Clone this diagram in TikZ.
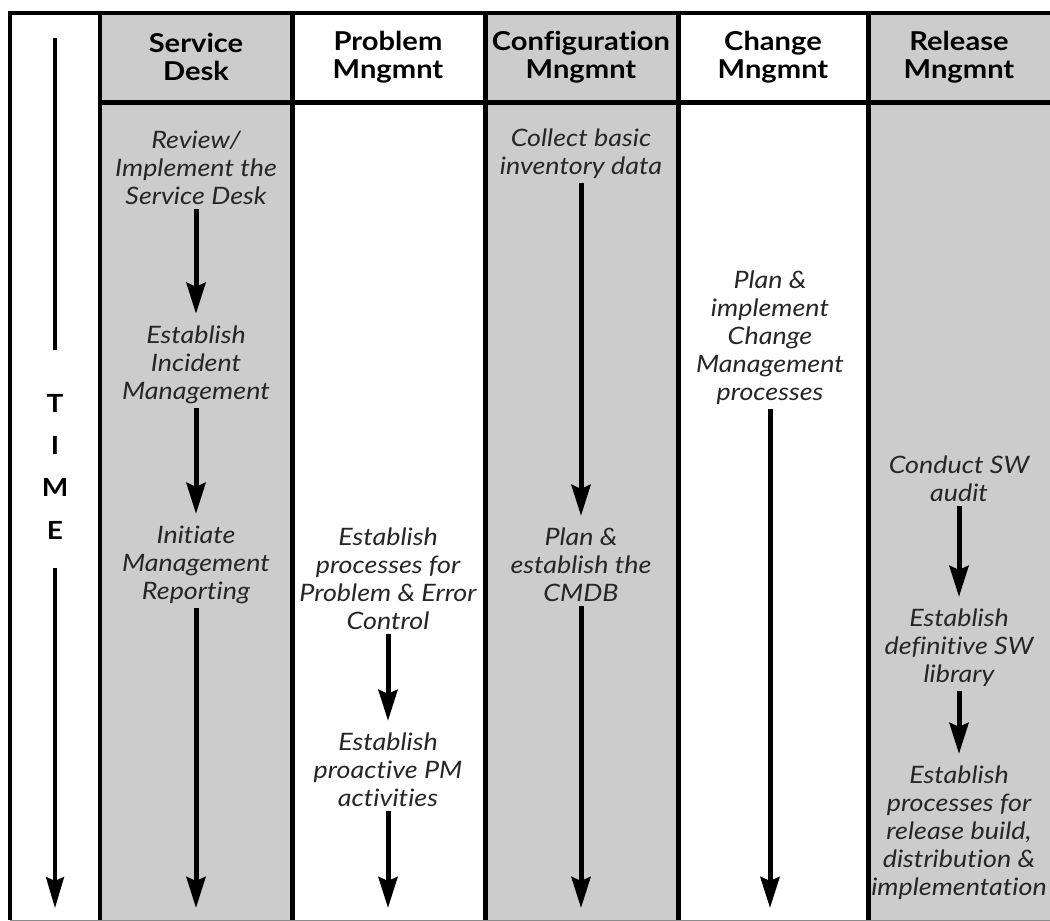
\documentclass[tikz,border=0pt]{standalone}
\usepackage{fontspec}
\setmainfont{Lato}[Ligatures=NoCommon, FakeStretch=1.12]
\usetikzlibrary{arrows.meta}
\definecolor{lanegray}{HTML}{CCCCCC}
\definecolor{inkgray}{HTML}{262626}
\begin{document}
\begin{tikzpicture}[x=1pt,y=-1pt,
  task/.style={font=\fontsize{24}{28}\selectfont\itshape, align=center, inner sep=0pt, text=inkgray},
  head/.style={font=\fontsize{26}{28}\selectfont\bfseries, align=center, inner sep=0pt},
  letter/.style={font=\fontsize{25}{28}\selectfont\bfseries, inner sep=0pt},
  flow/.style={line width=5pt, -{Stealth[length=31pt,width=19pt,inset=4pt]}, shorten <=4pt},
  flowmid/.style={flow, shorten >=12pt},
  timeline/.style={line width=3.5pt},
  rule/.style={line width=5pt},
]
\useasboundingbox (0,0) rectangle (1050,921);

% shaded swimlanes
\fill[lanegray] (100,13) rectangle (292,920);
\fill[lanegray] (485,13) rectangle (678,920);
\fill[lanegray] (868,13) rectangle (1050,920);

% frame and lane rules
\draw[line width=4pt] (10,920) -- (10,13) -- (1050,13);
\draw[line width=1pt, black!45] (10,920) -- (1050,920);
\draw[line width=4pt] (100,13) -- (100,920);
\draw[rule] (292,13) -- (292,920);
\draw[rule] (485,13) -- (485,920);
\draw[rule] (678,13) -- (678,920);
\draw[rule] (868,13) -- (868,920);
\draw[rule] (100,102) -- (1050,102);

% column headings
\node[head] (hSD) at (196,57) {Service\\Desk};
\node[head] (hPM) at (388,57) {Problem\\Mngmnt};
\node[head] (hCM) at (581,57) {Configuration\\Mngmnt};
\node[head] (hCH) at (773,57) {Change\\Mngmnt};
\node[head] (hRM) at (959,57) {Release\\Mngmnt};

% time axis
\node[letter] (tT) at (55,403) {T};
\node[letter] (tI) at (55,445) {I};
\node[letter] (tM) at (55,487) {M};
\node[letter] (tE) at (55,530) {E};
\coordinate (timeTop) at (55,38);
\coordinate (timeMidA) at (55,350);
\coordinate (timeMidB) at (55,568);
\coordinate (timeEnd) at (55,908);
\draw[timeline] (timeTop) -- (timeMidA);
\draw[timeline, -{Stealth[length=31pt,width=18pt,inset=4pt]}] (timeMidB) -- (timeEnd);

% Service Desk
\node[task] (sd1) at (196,168) {Review/\\Implement the\\Service Desk};
\node[task] (sd2) at (196,365) {Establish\\Incident\\Management};
\node[task] (sd3) at (196,565) {Initiate\\Management\\Reporting};
\coordinate (sdEnd) at (196,908);
\draw[flowmid] (sd1) -- (sd2);
\draw[flowmid] (sd2) -- (sd3);
\draw[flow] (sd3) -- (sdEnd);

% Problem Management
\node[task] (pm1) at (388,579) {Establish\\processes for\\Problem \& Error\\Control};
\node[task] (pm2) at (388,770) {Establish\\proactive PM\\activities};
\coordinate (pmEnd) at (388,908);
\draw[flowmid] (pm1) -- (pm2);
\draw[flow] (pm2) -- (pmEnd);

% Configuration Management
\node[task] (cm1) at (581,154) {Collect basic\\inventory data};
\node[task] (cm2) at (581,565) {Plan \&\\establish the\\CMDB};
\coordinate (cmEnd) at (581,908);
\draw[flowmid] (cm1) -- (cm2);
\draw[flow] (cm2) -- (cmEnd);

% Change Management
\node[task] (ch1) at (770,338) {Plan \&\\implement\\Change\\Management\\processes};
\coordinate (chEnd) at (770,908);
\draw[flow] (ch1) -- (chEnd);

% Release Management
\node[task] (rm1) at (959,479) {Conduct SW\\audit};
\node[task] (rm2) at (959,648) {Establish\\definitive SW\\library};
\node[task] (rm3) at (959,833) {Establish\\processes for\\release build,\\distribution \&\\implementation};
\draw[flowmid] (rm1) -- (rm2);
\draw[flowmid] (rm2) -- (rm3);
\end{tikzpicture}
\end{document}
